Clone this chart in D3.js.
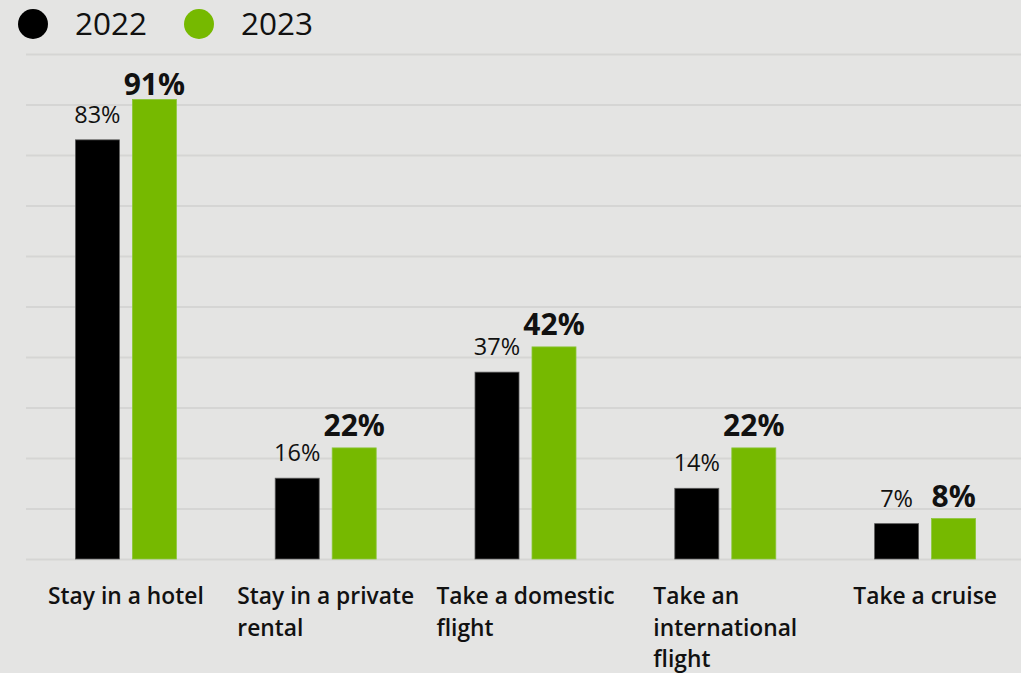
<!DOCTYPE html>
<html>
<head>
<meta charset="utf-8">
<script src="https://cdn.jsdelivr.net/npm/d3@7"></script>
<style>
  html, body { margin: 0; padding: 0; background: #e4e4e3; }
  svg { display: block; font-family: "Open Sans", "Noto Sans", sans-serif; }
</style>
</head>
<body>
<svg id="chart" width="1021" height="673"></svg>
<script>
// Share of travellers planning each type of trip
const categories = [
  "Stay in a hotel",
  "Stay in a private rental",
  "Take a domestic flight",
  "Take an international flight",
  "Take a cruise"
];
const seriesNames = ["2022", "2023"];
const values2022 = [83, 16, 37, 14, 7];
const values2023 = [91, 22, 42, 22, 8];
const yTicks = [0, 10, 20, 30, 40, 50, 60, 70, 80, 90, 100];

const colors = { "2022": "#000000", "2023": "#76b900" };
const outline = { "2022": "#5a5a5a", "2023": "#8cc63a" };

const W = 1021, H = 673;
const svg = d3.select("#chart");

svg.append("rect").attr("width", W).attr("height", H).attr("fill", "#e4e4e3");

const y = d3.scaleLinear().domain([0, 100]).range([559, 54]);
const x0 = d3.scaleBand().domain(categories).range([26, 1025]).paddingInner(0).paddingOuter(0);
const x1 = d3.scaleBand().domain(seriesNames).range([0, x0.bandwidth()])
  .paddingInner(0.228).paddingOuter(0.867);

// horizontal gridlines
const yAxis = d3.axisLeft(y).tickValues(yTicks).tickSize(-(W - 26)).tickFormat("");
const gy = svg.append("g").attr("transform", "translate(26,0)").call(yAxis);
gy.select(".domain").remove();
gy.selectAll(".tick line").attr("stroke", "#d5d5d4").attr("stroke-width", 2);

// bars
const rows = categories.map((c, i) => ({
  category: c,
  values: [
    { key: "2022", value: values2022[i] },
    { key: "2023", value: values2023[i] }
  ]
}));

const groups = svg.append("g").selectAll("g").data(rows).join("g")
  .attr("transform", d => `translate(${x0(d.category)},0)`);

groups.selectAll("rect").data(d => d.values).join("rect")
  .attr("x", d => x1(d.key))
  .attr("width", x1.bandwidth())
  .attr("y", d => y(d.value))
  .attr("height", d => y(0) - y(d.value))
  .attr("fill", d => colors[d.key])
  .attr("stroke", d => outline[d.key])
  .attr("stroke-width", 0.8);

// value labels
groups.selectAll("text.val").data(d => d.values).join("text")
  .attr("class", "val")
  .attr("x", d => x1(d.key) + x1.bandwidth() / 2)
  .attr("y", d => d.key === "2022" ? y(d.value) - 17 : Math.max(y(d.value) - 12, 95))
  .attr("text-anchor", "middle")
  .attr("fill", "#111")
  .attr("font-size", d => d.key === "2022" ? 23.5 : 30)
  .attr("font-weight", d => d.key === "2022" ? 400 : 700)
  .text(d => d.value + "%");

// category labels: wrapped, lines left-aligned, block centred on group
const maxLine = 192;
const labelG = svg.append("g");
categories.forEach(c => {
  const cx = x0(c) + x0.bandwidth() / 2;
  const t = labelG.append("text")
    .attr("font-size", 22.8).attr("font-weight", 600).attr("fill", "#111");
  const words = c.split(" ");
  const lines = [];
  let cur = [];
  const probe = t.append("tspan");
  words.forEach(w => {
    const test = cur.concat([w]).join(" ");
    probe.text(test);
    if (probe.node().getComputedTextLength() > maxLine && cur.length) {
      lines.push(cur.join(" "));
      cur = [w];
    } else {
      cur.push(w);
    }
  });
  if (cur.length) lines.push(cur.join(" "));
  probe.remove();
  const spans = lines.map((ln, i) => t.append("tspan")
    .attr("y", 604 + i * 31.5).text(ln));
  const widest = d3.max(spans, s => s.node().getComputedTextLength());
  spans.forEach(s => s.attr("x", cx - widest / 2));
});

// legend
const legend = svg.append("g");
seriesNames.forEach((s, i) => {
  const lx = 33 + i * 166;
  legend.append("circle").attr("cx", lx).attr("cy", 24).attr("r", 15).attr("fill", colors[s]);
  legend.append("text").attr("x", lx + 42).attr("y", 35)
    .attr("font-size", 31.5).attr("fill", "#111").text(s);
});
</script>
</body>
</html>
